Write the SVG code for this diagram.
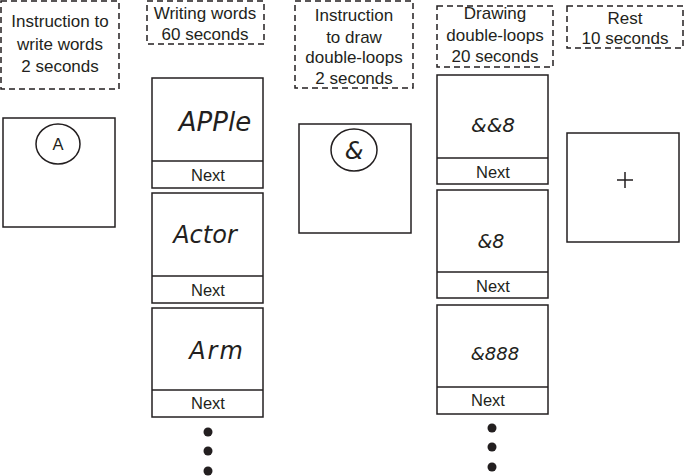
<svg xmlns="http://www.w3.org/2000/svg" width="684" height="476" viewBox="0 0 684 476">
<style>
.lbl{font-family:"Liberation Sans",Arial,sans-serif;font-size:17px;fill:#231f20;text-anchor:middle}
.nx{font-family:"Liberation Sans",Arial,sans-serif;font-size:16.5px;fill:#231f20;text-anchor:middle}
.dash{fill:none;stroke:#231f20;stroke-width:1.5;stroke-dasharray:6 4}
.box{fill:#fff;stroke:#231f20;stroke-width:1.5}
.hw{font-family:"DejaVu Sans",sans-serif;font-weight:200;font-style:italic;fill:#231f20;text-anchor:middle}
.dot{fill:#231f20}
</style>
<rect width="684" height="476" fill="#fff"/>
<g id="instr-write">
<rect class="dash" x="1" y="1" width="118" height="88"/>
<text class="lbl" x="60" y="27">Instruction to</text>
<text class="lbl" x="60" y="50">write words</text>
<text class="lbl" x="60" y="72">2 seconds</text>
</g>
<g id="writing-words">
<rect class="dash" x="147" y="1" width="117" height="43"/>
<text class="lbl" x="205" y="19">Writing words</text>
<text class="lbl" x="205" y="40">60 seconds</text>
</g>
<g id="instr-draw">
<rect class="dash" x="295" y="1" width="118" height="87"/>
<text class="lbl" x="354" y="21">Instruction</text>
<text class="lbl" x="354" y="43">to draw</text>
<text class="lbl" x="354" y="63">double-loops</text>
<text class="lbl" x="354" y="84">2 seconds</text>
</g>
<g id="drawing-loops">
<rect class="dash" x="437" y="6" width="116" height="61"/>
<text class="lbl" x="495" y="19">Drawing</text>
<text class="lbl" x="495" y="41">double-loops</text>
<text class="lbl" x="495" y="62">20 seconds</text>
</g>
<g id="rest">
<rect class="dash" x="567" y="6" width="116" height="42"/>
<text class="lbl" x="625" y="24">Rest</text>
<text class="lbl" x="625" y="44">10 seconds</text>
</g>
<g id="screen-A">
<rect class="box" x="3" y="118" width="112" height="109"/>
<ellipse cx="58" cy="144" rx="22" ry="20" fill="none" stroke="#231f20" stroke-width="1.5"/>
<text class="nx" x="58" y="150">A</text>
</g>
<g id="card-apple">
<rect class="box" x="152" y="78" width="111" height="110"/>
<line x1="152" y1="161" x2="263" y2="161" stroke="#231f20" stroke-width="1.5"/>
<text class="hw" x="215" y="131" font-size="26">APPle</text>
<text class="nx" x="208" y="181">Next</text>
</g>
<g id="card-actor">
<rect class="box" x="152" y="193" width="111" height="110"/>
<line x1="152" y1="276" x2="263" y2="276" stroke="#231f20" stroke-width="1.5"/>
<text class="hw" x="205" y="243" font-size="24">Actor</text>
<text class="nx" x="208" y="296">Next</text>
</g>
<g id="card-arm">
<rect class="box" x="152" y="308" width="111" height="109"/>
<line x1="152" y1="390" x2="263" y2="390" stroke="#231f20" stroke-width="1.5"/>
<text class="hw" x="217" y="359" font-size="24" letter-spacing="2">Arm</text>
<text class="nx" x="208" y="409">Next</text>
</g>
<g id="dots-words">
<circle class="dot" cx="208" cy="432" r="4.5"/>
<circle class="dot" cx="208" cy="451" r="4.5"/>
<circle class="dot" cx="208" cy="471" r="4.5"/>
</g>
<g id="screen-amp">
<rect class="box" x="299" y="124" width="112" height="109"/>
<ellipse cx="354" cy="150" rx="23" ry="21" fill="none" stroke="#231f20" stroke-width="1.5"/>
<text class="hw" x="354" y="159" font-size="24">&amp;</text>
</g>
<g id="card-loops1">
<rect class="box" x="437" y="75" width="111" height="109"/>
<line x1="437" y1="158" x2="548" y2="158" stroke="#231f20" stroke-width="1.5"/>
<text class="hw" x="493" y="132" font-size="20">&amp;&amp;8</text>
<text class="nx" x="493" y="178">Next</text>
</g>
<g id="card-loops2">
<rect class="box" x="437" y="190" width="111" height="108"/>
<line x1="437" y1="272" x2="548" y2="272" stroke="#231f20" stroke-width="1.5"/>
<text class="hw" x="491" y="248" font-size="19">&amp;8</text>
<text class="nx" x="493" y="292">Next</text>
</g>
<g id="card-loops3">
<rect class="box" x="437" y="305" width="111" height="109"/>
<line x1="437" y1="387" x2="548" y2="387" stroke="#231f20" stroke-width="1.5"/>
<text class="hw" x="495" y="360" font-size="18">&amp;888</text>
<text class="nx" x="488" y="406">Next</text>
</g>
<g id="dots-loops">
<circle class="dot" cx="492" cy="428" r="4.5"/>
<circle class="dot" cx="492" cy="447" r="4.5"/>
<circle class="dot" cx="492" cy="467" r="4.5"/>
</g>
<g id="screen-rest">
<rect class="box" x="567" y="133" width="112" height="109"/>
<path d="M617 180H633M625 172V188" stroke="#231f20" stroke-width="1.5" fill="none"/>
</g>
</svg>
